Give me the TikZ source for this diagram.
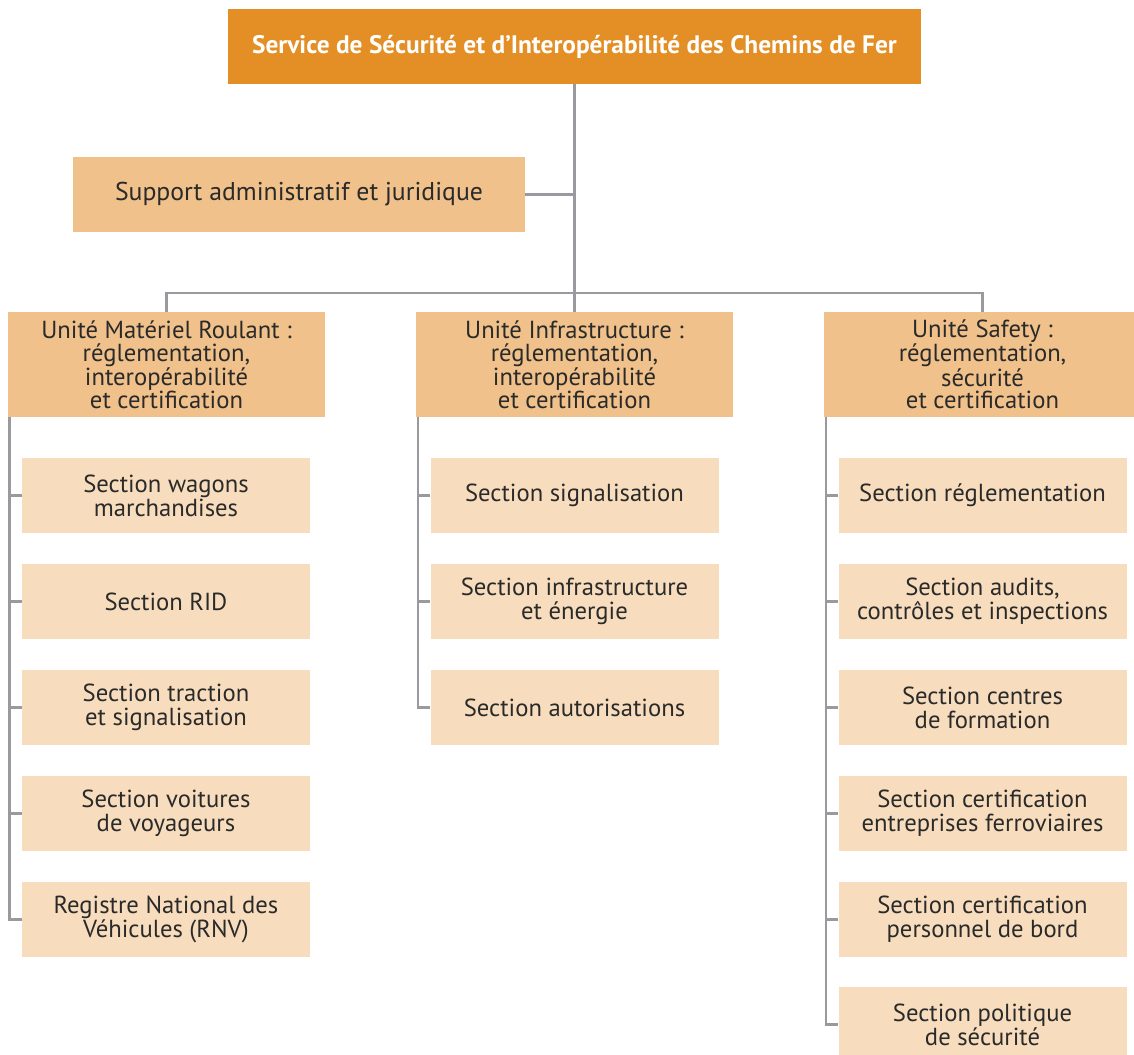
\documentclass[tikz,border=0pt]{standalone}
\usepackage{fontspec}
\setmainfont{PT Sans}

\definecolor{ssicforange}{HTML}{E38F26}
\definecolor{ssicfunit}{HTML}{F0C18A}
\definecolor{ssicfsection}{HTML}{F7DDBD}
\definecolor{ssicfline}{HTML}{9A9A9E}
\definecolor{ssicftext}{HTML}{2A2A2A}

\tikzset{
  headbox/.style={fill=ssicforange, text=white, font=\bfseries\fontsize{19}{20}\selectfont,
    minimum width=519.75pt, minimum height=56.25pt},
  unitbox/.style={fill=ssicfunit, text=ssicftext, font=\fontsize{18.5}{17}\selectfont,
    minimum width=237.75pt, minimum height=78.75pt},
  sectionbox/.style={fill=ssicfsection, text=ssicftext, font=\fontsize{18.5}{18}\selectfont,
    minimum width=216pt, minimum height=56.25pt},
  link/.style={draw=ssicfline, line width=1.6pt}
}

\begin{document}
\begin{tikzpicture}
        [x=0.75pt,y=-0.75pt,every node/.style={inner sep=0pt,align=center}]
        \clip (0,0) rectangle (1134,1055);

        \node[headbox] (ssicf) at (574.5,46.5) {Service de Sécurité et d’Interopérabilité des Chemins de Fer};
        \node[unitbox, minimum width=339pt, minimum height=56.25pt,
              font=\fontsize{19.3}{20}\selectfont] (support) at (299,194.5) {Support administratif et juridique};

        \node[unitbox] (umr) at (166.5,364.5) {Unité Matériel Roulant :\\réglementation,\\interopérabilité\\et certification};
        \node[unitbox] (uinfra) at (574.5,364.5) {Unité Infrastructure :\\réglementation,\\interopérabilité\\et certification};
        \node[unitbox] (usafety) at (982.5,364.5) {Unité Safety :\\réglementation,\\sécurité\\et certification};

        % Matériel roulant
        \node[sectionbox] (wagons) at (166,495.5) {Section wagons\\marchandises};
        \node[sectionbox] (rid) at (166,601.5) {Section RID};
        \node[sectionbox] (traction) at (166,707.5) {Section traction\\et signalisation};
        \node[sectionbox] (voitures) at (166,813.5) {Section voitures\\de voyageurs};
        \node[sectionbox] (rnv) at (166,919.5) {Registre National des\\Véhicules (RNV)};

        % Infrastructure
        \node[sectionbox] (signal) at (574.5,495.5) {Section signalisation};
        \node[sectionbox] (energie) at (574.5,601.5) {Section infrastructure\\et énergie};
        \node[sectionbox] (autor) at (574.5,707.5) {Section autorisations};

        % Safety
        \node[sectionbox] (regl) at (982.5,495.5) {Section réglementation};
        \node[sectionbox] (audits) at (982.5,601.5) {Section audits,\\contrôles et inspections};
        \node[sectionbox] (centres) at (982.5,707.5) {Section centres\\de formation};
        \node[sectionbox] (certef) at (982.5,813.5) {Section certification\\entreprises ferroviaires};
        \node[sectionbox] (certpb) at (982.5,919.5) {Section certification\\personnel de bord};
        \node[sectionbox] (politique) at (982.5,1024.5) {Section politique\\de sécurité};

        \coordinate (bus) at (574.5,293);
        \coordinate (railmr) at (9.5,417);
        \coordinate (railinfra) at (418,417);
        \coordinate (railsafety) at (826,417);

        \draw[link] (ssicf.south) -- (bus);
        \draw[link] (support.east) -- (support.east -| bus);
        \draw[link] (umr.north) |- (bus) -| (usafety.north);
        \draw[link] (bus) -- (uinfra.north);

        \draw[link] (railmr) |- (rnv.west);
        \foreach \s in {wagons,rid,traction,voitures}
            \draw[link] (railmr |- \s.west) -- (\s.west);
        \draw[link] (railinfra) |- (autor.west);
        \foreach \s in {signal,energie}
            \draw[link] (railinfra |- \s.west) -- (\s.west);
        \draw[link] (railsafety) |- (politique.west);
        \foreach \s in {regl,audits,centres,certef,certpb}
            \draw[link] (railsafety |- \s.west) -- (\s.west);
    \end{tikzpicture}
\end{document}
